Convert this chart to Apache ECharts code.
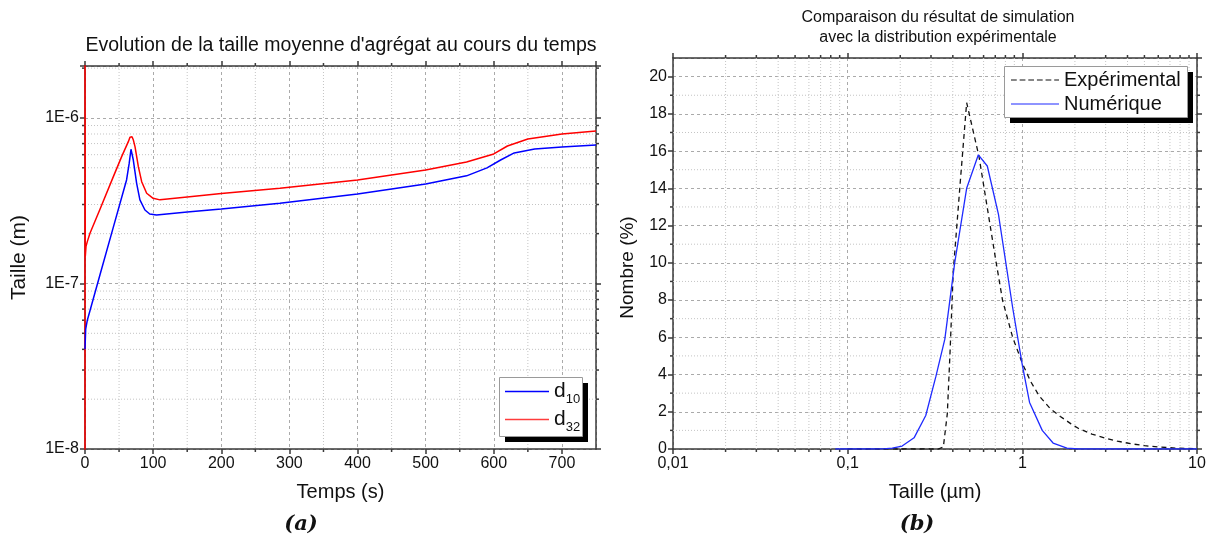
<!DOCTYPE html>
<html>
<head>
<meta charset="utf-8">
<script src="https://cdn.jsdelivr.net/npm/echarts@6/dist/echarts.min.js"></script>
<style>
  html, body { margin: 0; padding: 0; background: #ffffff; }
  #chart { width: 1209px; height: 543px; }
</style>
</head>
<body>
<div id="chart"></div>
<script>
// ---------- (a) mean aggregate size versus time ----------
// [time (s), size (m)]
const d10 = [
  [0, 4.0e-8], [1, 5.3e-8], [3.4, 6.0e-8], [22, 1.13e-7], [41.6, 2.19e-7], [61, 4.22e-7],
  [64.9, 5.33e-7], [67.5, 6.47e-7], [70.9, 5.57e-7], [75.8, 4.03e-7], [80.6, 3.2e-7],
  [88, 2.78e-7], [95, 2.63e-7], [105, 2.59e-7], [150, 2.7e-7], [200, 2.82e-7], [286, 3.05e-7],
  [400, 3.47e-7], [500, 3.99e-7], [560, 4.47e-7], [590, 4.99e-7], [610, 5.57e-7],
  [630, 6.15e-7], [660, 6.5e-7], [700, 6.68e-7], [750, 6.87e-7]
];
const d32 = [
  [0, 1e-9], [0, 3e-6], [0.4, 1.45e-7], [1.5, 1.68e-7], [3.4, 1.79e-7], [7.3, 2.01e-7],
  [22, 2.81e-7], [41.6, 4.42e-7], [53.8, 5.84e-7], [63.6, 7.19e-7], [66, 7.65e-7],
  [67.5, 7.78e-7], [69, 7.7e-7], [71, 7.35e-7], [73.4, 6.71e-7], [78.3, 5.08e-7],
  [83.2, 4.12e-7], [90.5, 3.51e-7], [100, 3.27e-7], [110, 3.2e-7], [150, 3.33e-7],
  [200, 3.5e-7], [286, 3.76e-7], [400, 4.22e-7], [500, 4.85e-7], [560, 5.42e-7],
  [600, 6.06e-7], [620, 6.77e-7], [650, 7.46e-7], [700, 8.0e-7], [750, 8.35e-7]
];
// minor grid positions
const tempsMinor = [50, 150, 250, 350, 450, 550, 650];
const tailleMinor = [
  2e-8, 3e-8, 4e-8, 5e-8, 6e-8, 7e-8, 8e-8, 9e-8,
  2e-7, 3e-7, 4e-7, 5e-7, 6e-7, 7e-7, 8e-7, 9e-7,
  2e-6
];

// ---------- (b) size distribution: simulation vs experiment ----------
// [size (µm), number (%)]
const experimental = [
  [0.1, 0], [0.2, 0], [0.33, 0], [0.353, 0.1], [0.372, 1.9], [0.386, 5.3], [0.402, 9.5],
  [0.44, 14.2], [0.48, 18.6], [0.565, 15.7], [0.7, 10.3], [0.77, 8.0], [0.88, 6.0],
  [1.0, 4.6], [1.12, 3.6], [1.25, 2.85], [1.45, 2.15], [1.65, 1.75], [1.9, 1.35],
  [2.1, 1.1], [2.5, 0.8], [3, 0.58], [3.5, 0.42], [4.2, 0.28], [5, 0.18], [6, 0.11],
  [7.5, 0.05], [10, 0.02]
];
const numerique = [
  [0.085, 0], [0.1, 0], [0.12, 0], [0.14, 0], [0.16, 0.01], [0.18, 0.05], [0.205, 0.16],
  [0.24, 0.6], [0.28, 1.8], [0.32, 3.9], [0.36, 5.9], [0.41, 10.0], [0.48, 14.0],
  [0.56, 15.8], [0.63, 15.2], [0.73, 12.6], [0.88, 7.6], [1.0, 4.5], [1.1, 2.5],
  [1.3, 1.0], [1.5, 0.32], [1.8, 0.05], [2.1, 0], [3, 0], [5, 0], [10, 0]
];
const tailleUmMinor = [
  0.02, 0.03, 0.04, 0.05, 0.06, 0.07, 0.08, 0.09,
  0.2, 0.3, 0.4, 0.5, 0.6, 0.7, 0.8, 0.9,
  2, 3, 4, 5, 6, 7, 8, 9
];
const nombreMinor = [1, 3, 5, 7, 9, 11, 13, 15, 17, 19];

// ---------- styling ----------
const FONT = 'Liberation Sans, Arial, sans-serif';
const AXIS = '#3a3a3a';
const TXT = '#111111';
const BLUE = '#0000ff';
const RED = '#ff0000';
const BLUE_B = '#1f2bff';
const BLACK = '#111111';

// legend keys: plain stroke and a dashed stroke
const ICON_SOLID = 'path://M0,0h50v1h-50z';
const ICON_DASHED = 'path://M0,0h6v1h-6z M9,0h6v1h-6z M18,0h6v1h-6z M27,0h6v1h-6z M36,0h6v1h-6z M45,0h5v1h-5z';
const keyStyle = c => ({ color: c, borderWidth: 0, opacity: 1 });

const isPow10 = v => Math.abs(Math.log10(v) - Math.round(Math.log10(v))) < 1e-6;

function baseAxis(extra) {
  return Object.assign({
    axisLine: { show: true, onZero: false, lineStyle: { color: AXIS, width: 1.5 } },
    axisTick: { show: true, inside: false, length: 5, lineStyle: { color: AXIS, width: 1.5 } },
    axisLabel: { color: TXT, fontSize: 16, fontFamily: FONT, margin: 6 },
    splitLine: { show: true, lineStyle: { color: '#aaaaaa', width: 1, type: [3, 3] } },
    nameTextStyle: { color: TXT, fontSize: 20, fontFamily: FONT }
  }, extra);
}
function mirrorAxis(extra) {
  return Object.assign({
    axisLine: { show: true, onZero: false, lineStyle: { color: AXIS, width: 1.5 } },
    axisTick: { show: true, inside: false, length: 5, lineStyle: { color: AXIS, width: 1.5 } },
    axisLabel: { show: false },
    splitLine: { show: false }
  }, extra);
}

// dotted minor grid lines plus short minor ticks on both opposite axes
function minorLines(values, dir, xIdx, yIdx, anchor) {
  return {
    type: 'custom', xAxisIndex: xIdx, yAxisIndex: yIdx, clip: false, silent: true, z: 1,
    data: values.map(v => (dir === 'h' ? [anchor, v] : [v, anchor])),
    renderItem: function (params, api) {
      const r = params.coordSys;
      const p = api.coord([api.value(0), api.value(1)]);
      const g = { stroke: '#c4c4c4', lineWidth: 1, lineDash: [1, 2] };
      const t = { stroke: AXIS, lineWidth: 1.5 };
      if (dir === 'h') {
        const y = p[1];
        return { type: 'group', children: [
          { type: 'line', shape: { x1: r.x, y1: y, x2: r.x + r.width, y2: y }, style: g },
          { type: 'line', shape: { x1: r.x - 3, y1: y, x2: r.x, y2: y }, style: t },
          { type: 'line', shape: { x1: r.x + r.width, y1: y, x2: r.x + r.width + 3, y2: y }, style: t }
        ] };
      }
      const x = p[0];
      return { type: 'group', children: [
        { type: 'line', shape: { x1: x, y1: r.y, x2: x, y2: r.y + r.height }, style: g },
        { type: 'line', shape: { x1: x, y1: r.y + r.height, x2: x, y2: r.y + r.height + 3 }, style: t },
        { type: 'line', shape: { x1: x, y1: r.y - 3, x2: x, y2: r.y }, style: t }
      ] };
    }
  };
}

// legend frame: white box with grey border and a solid black drop shadow
function legendFrame(x, y, w, h) {
  return [
    { type: 'rect', x: x + 6, y: y + 6, z: 50, shape: { width: w, height: h }, style: { fill: '#000000' }, silent: true },
    { type: 'rect', x: x + 0.5, y: y + 0.5, z: 51, shape: { width: w, height: h }, style: { fill: '#ffffff', stroke: '#9a9a9a', lineWidth: 1 }, silent: true }
  ];
}

const legendCommon = {
  orient: 'vertical',
  backgroundColor: 'transparent',
  borderWidth: 0,
  padding: 0,
  itemHeight: 2,
  z: 60,
  inactiveColor: '#ccc'
};

const chart = echarts.init(document.getElementById('chart'), null, { renderer: 'canvas' });

chart.setOption({
  animation: false,
  backgroundColor: '#ffffff',
  title: [
    {
      text: "Evolution de la taille moyenne d'agrégat au cours du temps",
      left: 341, top: 36, textAlign: 'center', padding: 0,
      textStyle: { color: TXT, fontSize: 19.5, fontWeight: 'normal', fontFamily: FONT }
    },
    {
      text: 'Comparaison du résultat de simulation\navec la distribution expérimentale',
      left: 938, top: 8, textAlign: 'center', padding: 0,
      textStyle: { color: TXT, fontSize: 16, lineHeight: 20, fontWeight: 'normal', fontFamily: FONT }
    },
    {
      text: '(a)', left: 301, top: 514, textAlign: 'center', padding: 0,
      textStyle: { color: TXT, fontSize: 21, fontStyle: 'italic', fontWeight: 'bold', fontFamily: 'DejaVu Serif, serif' }
    },
    {
      text: '(b)', left: 917, top: 514, textAlign: 'center', padding: 0,
      textStyle: { color: TXT, fontSize: 21, fontStyle: 'italic', fontWeight: 'bold', fontFamily: 'DejaVu Serif, serif' }
    }
  ],
  graphic: legendFrame(499, 377, 83, 59).concat(legendFrame(1004, 66, 183, 51)),
  legend: [
    Object.assign({}, legendCommon, {
      data: [
        { name: 'd10', icon: 'rect', itemStyle: keyStyle(BLUE) },
        { name: 'd32', icon: 'rect', itemStyle: keyStyle('#ff3c3c') }
      ],
      left: 505, top: 381,
      itemGap: 3,
      itemWidth: 44,
      itemHeight: 1.6,
      formatter: n => '{a|d}{b|' + n.slice(1) + '}',
      textStyle: {
        color: TXT, fontFamily: FONT,
        rich: {
          a: { fontSize: 21, fontFamily: FONT, color: TXT },
          b: { fontSize: 13, fontFamily: FONT, color: TXT, padding: [16, 0, 0, 0] }
        }
      }
    }),
    Object.assign({}, legendCommon, {
      data: [
        { name: 'Expérimental', icon: ICON_DASHED, itemStyle: keyStyle(BLACK) },
        { name: 'Numérique', icon: ICON_SOLID, itemStyle: keyStyle(BLUE_B) }
      ],
      left: 1011, top: 70,
      itemGap: 4,
      itemWidth: 48,
      textStyle: { color: TXT, fontSize: 20, fontFamily: FONT }
    })
  ],
  grid: [
    { left: 85, top: 66, width: 511, height: 383 },
    { left: 673, top: 58, width: 524, height: 391 }
  ],
  xAxis: [
    baseAxis({
      type: 'value', gridIndex: 0, position: 'bottom', min: 0, max: 750, interval: 100,
      name: 'Temps (s)', nameLocation: 'middle', nameGap: 33,
      axisLabel: { color: TXT, fontSize: 16, fontFamily: FONT, margin: 7, showMaxLabel: false }
    }),
    mirrorAxis({ type: 'value', gridIndex: 0, position: 'top', min: 0, max: 750, interval: 100 }),
    baseAxis({
      type: 'log', logBase: 10, gridIndex: 1, position: 'bottom', min: 0.01, max: 10,
      name: 'Taille (µm)', nameLocation: 'middle', nameGap: 33,
      axisLabel: {
        color: TXT, fontSize: 16, fontFamily: FONT, margin: 7,
        formatter: v => (isPow10(v) ? String(Number(v.toPrecision(6))).replace('.', ',') : '')
      }
    }),
    mirrorAxis({ type: 'log', logBase: 10, gridIndex: 1, position: 'top', min: 0.01, max: 10 })
  ],
  yAxis: [
    baseAxis({
      type: 'log', logBase: 10, gridIndex: 0, position: 'left', min: 1e-8, max: 2.06e-6,
      name: 'Taille (m)', nameLocation: 'middle', nameGap: 55, nameRotate: 90,
      nameTextStyle: { color: TXT, fontSize: 21, fontFamily: FONT },
      axisLabel: {
        color: TXT, fontSize: 16, fontFamily: FONT, margin: 6,
        formatter: v => (isPow10(v) ? '1E' + Math.round(Math.log10(v)) : '')
      }
    }),
    mirrorAxis({ type: 'log', logBase: 10, gridIndex: 0, position: 'right', min: 1e-8, max: 2.06e-6 }),
    baseAxis({
      type: 'value', gridIndex: 1, position: 'left', min: 0, max: 21, interval: 2,
      name: 'Nombre (%)', nameLocation: 'middle', nameGap: 36, nameRotate: 90,
      nameTextStyle: { color: TXT, fontSize: 19, fontFamily: FONT, padding: [0, 28, 0, 0] },
      axisLabel: { color: TXT, fontSize: 16, fontFamily: FONT, margin: 6, showMaxLabel: false }
    }),
    mirrorAxis({ type: 'value', gridIndex: 1, position: 'right', min: 0, max: 21, interval: 2 })
  ],
  series: [
    minorLines(tempsMinor, 'v', 0, 0, 1e-7),
    minorLines(tailleMinor, 'h', 0, 0, 100),
    minorLines(tailleUmMinor, 'v', 2, 2, 1),
    minorLines(nombreMinor, 'h', 2, 2, 1),
    {
      name: 'd10', type: 'line', xAxisIndex: 0, yAxisIndex: 0, data: d10, z: 4,
      showSymbol: false, symbol: 'none', smooth: false,
      lineStyle: { color: BLUE, width: 1.5 }, itemStyle: { color: BLUE }
    },
    {
      name: 'd32', type: 'line', xAxisIndex: 0, yAxisIndex: 0, data: d32, z: 3,
      showSymbol: false, symbol: 'none', smooth: false,
      lineStyle: { color: RED, width: 1.5 }, itemStyle: { color: RED }
    },
    {
      name: 'Expérimental', type: 'line', xAxisIndex: 2, yAxisIndex: 2, data: experimental, z: 3,
      showSymbol: false, symbol: 'none',
      lineStyle: { color: BLACK, width: 1.3, type: [5, 4] }, itemStyle: { color: BLACK }
    },
    {
      name: 'Numérique', type: 'line', xAxisIndex: 2, yAxisIndex: 2, data: numerique, z: 4,
      showSymbol: false, symbol: 'none',
      lineStyle: { color: BLUE_B, width: 1.3 }, itemStyle: { color: BLUE_B }
    }
  ]
});
</script>
</body>
</html>
